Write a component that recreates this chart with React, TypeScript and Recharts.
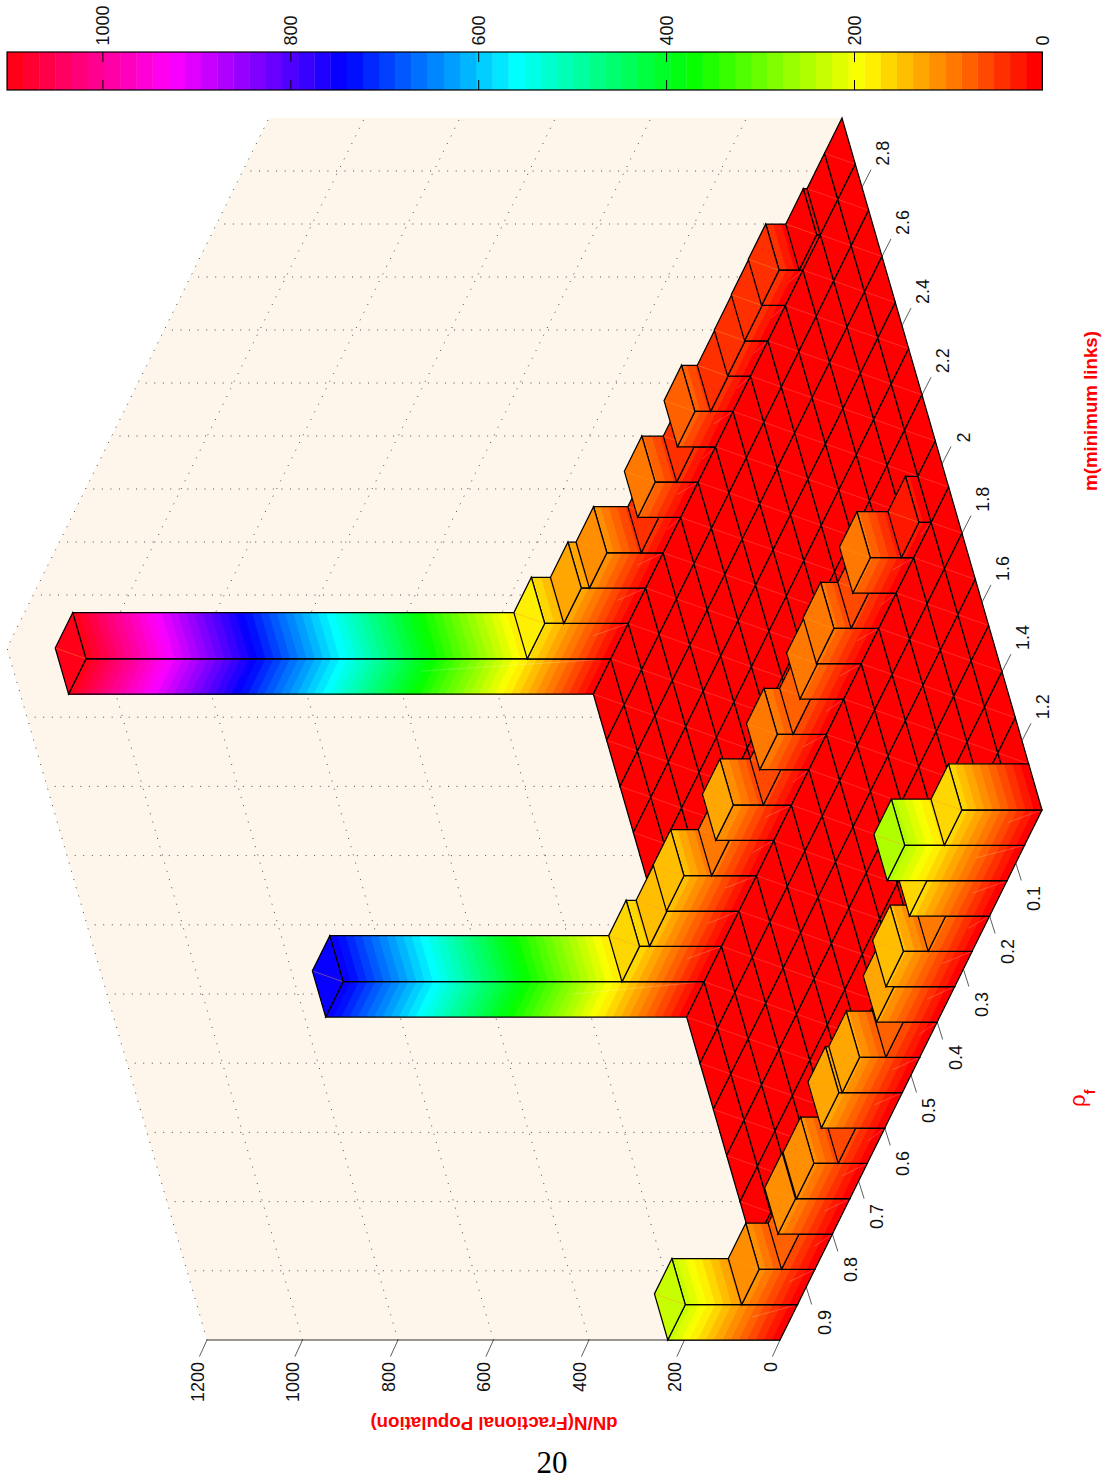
import React from 'react';
import { ScatterChart, Scatter, XAxis, YAxis } from 'recharts';

// Histogram values, one list per populated m row. Index 0 is the rho bin nearest rho = 1.
const populationRowNear = [235, 117, 70, 114, 112, 61, 133, 126, 71, 127, 144, 92, 168, 251, 168];
const populationRowMiddle = [756, 172, 151, 152, 94, 122, 59, 103, 70, 92, 94, 58, 91, 26, 0];
const populationRowFar = [1099, 175, 135, 118, 46, 90, 45, 80, 47, 48, 49, 50, 8, 0, 0];
const rowNearIndex = 0;
const rowMiddleIndex = 7;
const rowFarIndex = 14;
const binCount = 15;

const rhoTicks = [0.1, 0.2, 0.3, 0.4, 0.5, 0.6, 0.7, 0.8, 0.9];
const mTicks = [1.2, 1.4, 1.6, 1.8, 2, 2.2, 2.4, 2.6, 2.8];
const zTicks = [0, 200, 400, 600, 800, 1000, 1200];
const colorbarTicks = [0, 200, 400, 600, 800, 1000];
const colorLevels = 64;
const colorMax = 1102;

const W = 1103;
const H = 1481;
const SANS = '"Liberation Sans", Arial, sans-serif';
const WALL = '#FEF6EA';

// Oblique projection of the 3D box on to the page
const ORIGIN = { x: 780, y: 1340 };
const U = { x: 262 / 15, y: -530 / 15 };
const V = { x: -200 / 15, y: -692 / 15 };
const ZS = 0.4775;
const project = (i: number, j: number, z = 0) => ({
  x: ORIGIN.x + U.x * i + V.x * j - ZS * z,
  y: ORIGIN.y + U.y * i + V.y * j,
});
const rhoToI = (r: number) => binCount * (1 - r);
const mToJ = (m: number) => ((m - 1) / 2) * binCount;
const barX = (v: number) => 1042.4 - 0.9395 * v;

const hsv = (h: number) => {
  const f = h * 6;
  const k = Math.floor(f);
  const t = f - k;
  const c = (v: number) => Math.round(v * 255);
  const table = [
    [1, t, 0],
    [1 - t, 1, 0],
    [0, 1, t],
    [0, 1 - t, 1],
    [t, 0, 1],
    [1, 0, 1 - t],
  ][k % 6];
  return `rgb(${c(table[0])},${c(table[1])},${c(table[2])})`;
};
const step = colorMax / colorLevels;
const levelOf = (z: number) => Math.min(colorLevels - 1, Math.floor(z / step));

const valueAt = (i: number, j: number) => {
  if (j === rowNearIndex) return populationRowNear[i];
  if (j === rowMiddleIndex) return populationRowMiddle[i];
  if (j === rowFarIndex) return populationRowFar[i];
  return 0;
};

// back to front
const cells: any[] = [];
for (let i = 0; i < binCount; i++) {
  for (let j = binCount - 1; j >= 0; j--) {
    const p = project(i, j);
    cells.push({ x: p.x, y: p.y, i, j, value: valueAt(i, j) });
  }
}

const colorBands = Array.from({ length: colorLevels }, (_, k) => ({
  x: barX((k + 0.5) * step),
  y: 71,
  level: k,
  w: barX(k * step) - barX((k + 1) * step),
}));

const pts = (list: { x: number; y: number }[]) => list.map((p) => `${p.x.toFixed(2)},${p.y.toFixed(2)}`).join(' ');

const a0 = project(0, 0);
const c0 = project(binCount, binCount);
const d0 = project(0, binCount);
const zTop = zTicks[zTicks.length - 1];
const walls = [
  { x: a0.x, y: a0.y, shape: [a0, d0, project(0, binCount, zTop), project(0, 0, zTop)] },
  { x: d0.x, y: d0.y, shape: [d0, c0, project(binCount, binCount, zTop), project(0, binCount, zTop)] },
];

const gridLines: any[] = [];
zTicks.slice(1).forEach((z) => {
  const p = project(0, 0, z);
  gridLines.push({ x: p.x, y: p.y, shape: [p, project(0, binCount, z), project(binCount, binCount, z)] });
});
mTicks.forEach((m) => {
  const p = project(0, mToJ(m));
  gridLines.push({ x: p.x, y: p.y, shape: [p, project(0, mToJ(m), zTop)] });
});
rhoTicks.forEach((r) => {
  const p = project(rhoToI(r), binCount);
  gridLines.push({ x: p.x, y: p.y, shape: [p, project(rhoToI(r), binCount, zTop)] });
});

const axisLines: any[] = [];
{
  const s = project(0, 0, zTop);
  axisLines.push({ x: s.x, y: s.y, shape: [s, a0], w: 1.1 });
  zTicks.forEach((z) => {
    const p = project(0, 0, z);
    axisLines.push({ x: p.x, y: p.y, shape: [p, { x: p.x - 7.6, y: p.y + 16.6 }], w: 0.8 });
  });
  rhoTicks.forEach((r) => {
    const p = project(rhoToI(r), 0);
    axisLines.push({ x: p.x, y: p.y, shape: [p, { x: p.x + 5.5, y: p.y + 17.5 }], w: 0.8 });
  });
  mTicks.forEach((m) => {
    const p = project(binCount, mToJ(m));
    axisLines.push({ x: p.x, y: p.y, shape: [p, { x: p.x + 9, y: p.y - 17.5 }], w: 0.8 });
  });
}

const labels: any[] = [];
zTicks.forEach((z) => {
  const p = project(0, 0, z);
  labels.push({ x: p.x - 9.5, y: 1362, text: String(z), anchor: 'end' });
});
rhoTicks.forEach((r) => {
  const p = project(rhoToI(r), 0);
  labels.push({ x: p.x + 18.3, y: p.y + 35.5, text: String(r), anchor: 'middle' });
});
mTicks.forEach((m) => {
  const p = project(binCount, mToJ(m));
  labels.push({ x: p.x + 21.5, y: p.y - 21.5, text: String(m), anchor: 'start' });
});
colorbarTicks.forEach((v) => {
  labels.push({ x: barX(v) + 0.3, y: 45.5, text: String(v), anchor: 'start' });
});

const titles = [
  { x: 1090, y: 411, text: 'm(minimum links)', angle: -90 },
  { x: 494, y: 1423.5, text: 'dN/N(Fractional Population)', angle: 180 },
];

function BoxShape(props: any) {
  const { cx, cy, payload } = props;
  const { value } = payload;
  const at = (di: number, dj: number, z: number) => ({
    x: cx + U.x * di + V.x * dj - ZS * z,
    y: cy + U.y * di + V.y * dj,
  });
  const top = [at(0, 0, value), at(1, 0, value), at(1, 1, value), at(0, 1, value)];
  const seamA = at(0, 1, value);
  const seamB = at(1, 0, value);
  const bands: React.ReactNode[] = [];
  if (value > 0) {
    for (let k = 0; k <= levelOf(value); k++) {
      const low = k * step;
      const fill = hsv(k / colorLevels);
      bands.push(
        <polygon key={`m${k}`} points={pts([at(0, 0, low), at(1, 0, low), at(1, 0, value), at(0, 0, value)])} fill={fill} />,
        <polygon key={`p${k}`} points={pts([at(1, 0, low), at(1, 1, low), at(1, 1, value), at(1, 0, value)])} fill={fill} />,
      );
    }
  }
  const topFill = hsv(levelOf(value) / colorLevels);
  const start = at(1, 0, 0);
  const far = at(0, 0, value);
  return (
    <g>
      {value > 0 && (
        <>
          {bands}
          <line x1={start.x} y1={start.y} x2={start.x + (far.x - start.x) * 0.35} y2={start.y + (far.y - start.y) * 0.35} stroke="#fff" strokeWidth={0.6} strokeOpacity={0.35} />
          <polygon points={pts([at(1, 0, 0), at(1, 1, 0), at(1, 1, value), at(1, 0, value)])} fill="none" stroke="#000" strokeWidth={1.25} />
          <polygon points={pts([at(0, 0, 0), at(1, 0, 0), at(1, 0, value), at(0, 0, value)])} fill="none" stroke="#000" strokeWidth={1.25} />
        </>
      )}
      <polygon points={pts(top)} fill={topFill} stroke="none" />
      <line x1={seamA.x} y1={seamA.y} x2={seamB.x} y2={seamB.y} stroke={value > 0 ? '#ff9933' : '#ff6a6a'} strokeWidth={0.6} strokeOpacity={0.7} />
      <polygon points={pts(top)} fill="none" stroke="#000" strokeWidth={1.25} />
    </g>
  );
}

function shifted(shape: { x: number; y: number }[], payload: any, cx: number, cy: number) {
  return shape.map((p) => ({ x: p.x - payload.x + cx, y: p.y - payload.y + cy }));
}

function WallShape({ cx, cy, payload }: any) {
  return <polygon points={pts(shifted(payload.shape, payload, cx, cy))} fill={WALL} stroke={WALL} strokeWidth={0.5} />;
}
function GridShape({ cx, cy, payload }: any) {
  return <polyline points={pts(shifted(payload.shape, payload, cx, cy))} fill="none" stroke="#222" strokeWidth={0.8} strokeDasharray="1 7.55" />;
}
function AxisShape({ cx, cy, payload }: any) {
  return <polyline points={pts(shifted(payload.shape, payload, cx, cy))} fill="none" stroke="#333" strokeWidth={payload.w} />;
}
function LabelShape({ cx, cy, payload }: any) {
  return (
    <text x={cx} y={cy} transform={`rotate(-90 ${cx} ${cy})`} textAnchor={payload.anchor} dominantBaseline="central" fontFamily={SANS} fontSize={18} fill="#111">
      {payload.text}
    </text>
  );
}
function TitleShape({ cx, cy, payload }: any) {
  return (
    <text x={cx} y={cy} transform={`rotate(${payload.angle} ${cx} ${cy})`} textAnchor="middle" dominantBaseline="central" fontFamily={SANS} fontWeight="bold" fontSize={18.7} fill="#ff0000">
      {payload.text}
    </text>
  );
}
function RhoTitle({ cx, cy }: any) {
  return (
    <text x={cx} y={cy} transform={`rotate(-90 ${cx} ${cy})`} textAnchor="start" fontFamily={SANS} fontSize={22} fill="#ff0000">
      ρ
      <tspan dy={10} fontSize={15} fontWeight="bold">f</tspan>
    </text>
  );
}
function PageNumber({ cx, cy }: any) {
  return (
    <text x={cx} y={cy} textAnchor="middle" fontFamily='"Liberation Serif", serif' fontSize={31} fill="#000">
      20
    </text>
  );
}
function BandShape({ cx, cy, payload }: any) {
  return <rect x={cx - payload.w / 2 - 0.2} y={cy - 19} width={payload.w + 0.4} height={38} fill={hsv(payload.level / colorLevels)} />;
}
function BarFrame({ cx, cy }: any) {
  const x0 = barX(colorMax);
  const tickMarks = colorbarTicks.slice(1).map((v) => {
    const x = cx + barX(v) - barX(0);
    return (
      <g key={v}>
        <line x1={x} x2={x} y1={cy - 19} y2={cy - 9} stroke="#000" strokeWidth={1} />
        <line x1={x} x2={x} y1={cy + 9} y2={cy + 19} stroke="#000" strokeWidth={1} />
      </g>
    );
  });
  return (
    <g>
      {tickMarks}
      <rect x={cx + x0 - barX(0)} y={cy - 19} width={barX(0) - x0} height={38} fill="none" stroke="#000" strokeWidth={1.2} />
    </g>
  );
}

export default function App() {
  return (
    <div style={{ position: 'absolute', left: 0, top: 0, width: W, height: H }}>
      <ScatterChart width={W} height={H} margin={{ top: 0, right: 0, bottom: 0, left: 0 }}>
        <XAxis type="number" dataKey="x" domain={[0, W]} hide allowDataOverflow />
        <YAxis type="number" dataKey="y" domain={[0, H]} reversed hide allowDataOverflow />
        <Scatter data={walls} shape={WallShape} isAnimationActive={false} />
        <Scatter data={gridLines} shape={GridShape} isAnimationActive={false} />
        <Scatter data={axisLines} shape={AxisShape} isAnimationActive={false} />
        <Scatter data={cells} shape={BoxShape} isAnimationActive={false} />
        <Scatter data={colorBands} shape={BandShape} isAnimationActive={false} />
        <Scatter data={[{ x: barX(0), y: 71 }]} shape={BarFrame} isAnimationActive={false} />
        <Scatter data={labels} shape={LabelShape} isAnimationActive={false} />
        <Scatter data={titles} shape={TitleShape} isAnimationActive={false} />
        <Scatter data={[{ x: 1085, y: 1107 }]} shape={RhoTitle} isAnimationActive={false} />
        <Scatter data={[{ x: 552, y: 1473 }]} shape={PageNumber} isAnimationActive={false} />
      </ScatterChart>
    </div>
  );
}
